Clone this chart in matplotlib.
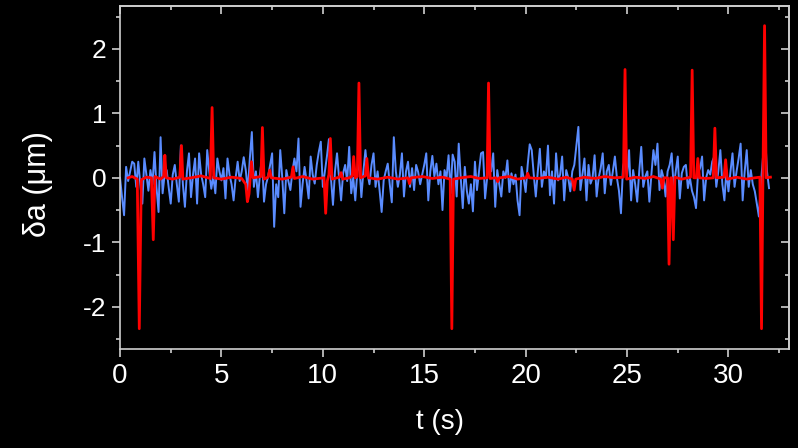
import matplotlib

matplotlib.use("Agg")
import numpy as np
from matplotlib import pyplot as plt
from matplotlib.ticker import MultipleLocator

plt.rcParams["font.family"] = ["Liberation Sans", "DejaVu Sans"]
plt.rcParams["axes.unicode_minus"] = False

# blue trace: one value every 0.1 s
SAMPLE_DT = 0.1
blue_v = [
    0.0, -0.3, -0.58, 0.17, -0.05, 0.1, 0.25, 0.22, -0.14, 0.25,
    -0.1, -0.4, 0.3, 0.05, -0.2, 0.12, -0.1, 0.4, -0.15, -0.53,
    0.63, -0.24, 0.05, 0.12, -0.15, -0.4, 0.05, 0.2, -0.1, -0.37,
    0.5, -0.1, -0.45, 0.1, 0.38, -0.3, 0.05, 0.3, -0.4, 0.38,
    0.05, -0.1, -0.3, 0.43, 0.1, -0.17, 0.02, -0.24, 0.3, 0.1,
    -0.04, 0.15, -0.32, 0.3, 0.05, -0.1, -0.35, 0.0, 0.25, -0.05,
    0.1, 0.32, 0.12, -0.2, 0.3, 0.71, -0.14, 0.1, -0.3, 0.05,
    0.32, -0.37, -0.1, 0.02, 0.2, 0.38, -0.76, -0.1, -0.3, 0.43,
    0.0, -0.55, 0.12, -0.05, -0.19, 0.1, 0.3, 0.1, 0.61, -0.45,
    -0.1, 0.17, -0.05, -0.32, 0.33, 0.05, -0.09, 0.2, 0.4, 0.56,
    -0.14, 0.1, 0.33, 0.6, 0.0, -0.42, 0.1, 0.38, 0.0, -0.35,
    0.07, 0.2, -0.05, 0.48, -0.24, 0.0, -0.35, 0.1, 0.22, -0.3,
    0.1, 0.43, 0.07, -0.1, 0.2, 0.38, -0.14, 0.1, -0.2, -0.53,
    -0.04, 0.1, 0.22, -0.1, -0.38, 0.63, 0.1, -0.14, 0.05, 0.38,
    -0.29, 0.1, 0.25, -0.14, 0.15, -0.19, 0.2, 0.09, -0.1, 0.05,
    0.2, 0.38, -0.35, 0.1, 0.34, 0.02, 0.22, -0.1, 0.1, -0.5,
    0.12, 0.0, 0.35, -0.24, 0.36, 0.25, -0.29, 0.53, 0.0, -0.47,
    0.17, -0.2, -0.4, -0.1, -0.52, 0.25, -0.19, 0.1, 0.38, 0.4,
    -0.32, 0.0, 0.25, 0.1, 0.38, -0.45, 0.12, -0.1, -0.29, 0.1,
    0.0, 0.27, -0.22, 0.07, -0.1, 0.05, -0.35, -0.58, 0.17, 0.0,
    -0.22, 0.2, 0.52, 0.43, 0.05, -0.29, 0.1, 0.45, -0.14, 0.1,
    0.0, 0.5, -0.27, 0.1, -0.4, 0.38, -0.04, 0.05, 0.33, -0.35,
    0.12, 0.0, -0.21, 0.1, 0.2, 0.5, 0.79, -0.19, 0.05, 0.3,
    -0.35, 0.2, -0.09, 0.0, 0.35, -0.29, 0.0, 0.15, 0.38, -0.24,
    0.1, 0.2, -0.11, 0.1, 0.33, 0.0, -0.2, -0.55, 0.17, 0.3,
    0.02, 0.43, -0.35, 0.12, -0.1, -0.37, 0.1, 0.48, -0.14, 0.02,
    0.1, -0.37, 0.05, 0.43, 0.2, 0.53, -0.19, 0.12, 0.0, -0.29,
    0.1, 0.2, 0.38, -0.16, 0.1, 0.33, -0.32, 0.07, 0.17, 0.2,
    -0.16, 0.0, -0.2, -0.3, -0.47, 0.07, 0.15, 0.33, -0.35, 0.0,
    0.12, 0.05, 0.25, 0.33, -0.14, 0.1, 0.43, -0.1, -0.35, 0.12,
    -0.21, 0.1, 0.38, -0.14, 0.1, 0.3, 0.53, -0.35, 0.1, 0.43,
    -0.14, 0.12, -0.1, -0.21, -0.4, -0.6, -0.09, 0.3, 0.71, 0.1,
    -0.16,
]

# red trace: flat baseline with sharp spikes
red_t = [
    0.4, 0.6, 0.85, 0.95, 1.05, 1.3, 1.55, 1.64, 1.72, 2.0,
    2.15, 2.21, 2.28, 2.6, 2.95, 3.03, 3.1, 3.5, 4.0, 4.45,
    4.54, 4.62, 5.0, 5.5, 6.0, 6.2, 6.28, 6.36, 6.48, 6.56,
    6.95, 7.02, 7.1, 7.3, 7.38, 7.46, 8.0, 8.45, 8.53, 8.6,
    9.0, 9.5, 10.06, 10.14, 10.22, 10.3, 10.37, 10.45, 10.82, 10.9,
    10.98, 11.3, 11.45, 11.52, 11.6, 11.7, 11.78, 11.86, 12.1, 12.17,
    12.25, 12.7, 13.2, 13.7, 14.2, 14.27, 14.35, 14.9, 15.4, 15.9,
    16.28, 16.36, 16.44, 16.8, 17.3, 17.7, 18.1, 18.17, 18.25, 18.55,
    18.62, 18.7, 19.2, 19.6, 20.03, 20.1, 20.18, 20.6, 21.1, 21.6,
    22.0, 22.3, 22.39, 22.47, 22.9, 23.4, 23.9, 24.4, 24.82, 24.9,
    24.98, 25.4, 25.9, 26.3, 26.66, 26.74, 26.82, 27.0, 27.07, 27.15,
    27.2, 27.28, 27.36, 27.7, 28.13, 28.21, 28.29, 28.42, 28.49, 28.57,
    28.9, 29.25, 29.33, 29.41, 29.78, 29.86, 29.94, 30.4, 30.9, 31.3,
    31.55, 31.63, 31.7, 31.78, 31.86, 32.07,
]
red_v = [
    0.0, 0.02, -0.02, -2.34, -0.03, 0.01, 0.0, -0.96, 0.02, -0.02,
    0.02, 0.35, 0.0, -0.02, 0.01, 0.5, -0.02, 0.0, 0.03, -0.01,
    1.09, 0.0, -0.02, 0.01, -0.01, -0.1, -0.37, -0.25, 0.25, 0.0,
    0.02, 0.78, -0.02, 0.01, 0.12, 0.0, -0.02, 0.01, 0.17, -0.01,
    0.02, -0.02, 0.0, -0.55, -0.05, 0.05, 0.61, -0.02, 0.01, 0.08,
    -0.02, 0.0, 0.03, 0.33, 0.0, 0.02, 1.47, 0.0, 0.03, 0.3,
    0.0, -0.02, 0.01, -0.02, 0.0, -0.09, 0.0, 0.02, -0.01, 0.01,
    -0.02, -2.34, -0.02, 0.0, 0.02, -0.01, 0.0, 1.47, -0.01, 0.0,
    -0.06, 0.0, 0.02, -0.02, 0.0, 0.07, 0.0, -0.01, 0.01, -0.02,
    0.01, -0.02, -0.19, -0.02, 0.01, -0.01, 0.02, 0.0, 0.01, 1.68,
    -0.02, 0.01, -0.01, 0.02, -0.02, -0.16, 0.0, 0.0, -1.34, 0.0,
    0.0, -0.96, 0.01, -0.02, 0.01, 1.67, 0.0, 0.0, 0.3, 0.0,
    -0.01, 0.0, 0.77, 0.0, 0.01, 0.28, -0.02, 0.01, -0.02, 0.0,
    0.01, -2.34, 0.0, 2.36, 0.0, 0.01,
]

BLUE = "#5a8cff"
RED = "#ff0000"
AXIS_GREY = "#cfcfcf"

blue_t = np.arange(len(blue_v)) * SAMPLE_DT

fig = plt.figure(figsize=(7.98, 4.48), dpi=100, facecolor="black")
ax = fig.add_axes([0.1504, 0.2217, 0.8387, 0.7642], facecolor="black")

ax.plot(blue_t, blue_v, color=BLUE, lw=1.4, zorder=2)
ax.plot(red_t, red_v, color=RED, lw=2.0, zorder=3)

ax.set_xlim(0, 33)
ax.set_ylim(-2.65, 2.66)
ax.xaxis.set_major_locator(MultipleLocator(5))
ax.xaxis.set_minor_locator(MultipleLocator(2.5))
ax.yaxis.set_major_locator(MultipleLocator(1))
ax.yaxis.set_minor_locator(MultipleLocator(0.5))

for side in ax.spines.values():
    side.set_color(AXIS_GREY)
    side.set_linewidth(1.2)

ax.tick_params(which="both", direction="out", color=AXIS_GREY, width=1.2, labelcolor="white")
ax.tick_params(which="major", length=6)
ax.tick_params(which="minor", length=3)
ax.tick_params(axis="x", labelsize=20, pad=4)
ax.tick_params(axis="y", labelsize=19, pad=4)

# mirrored ticks on top and right point inward
top = ax.secondary_xaxis("top")
right = ax.secondary_yaxis("right")
top.xaxis.set_major_locator(MultipleLocator(5))
top.xaxis.set_minor_locator(MultipleLocator(2.5))
right.yaxis.set_major_locator(MultipleLocator(1))
right.yaxis.set_minor_locator(MultipleLocator(0.5))
for sec in (top, right):
    sec.tick_params(which="both", direction="in", color=AXIS_GREY, width=1.2,
                    labeltop=False, labelright=False)
    sec.tick_params(which="major", length=6)
    sec.tick_params(which="minor", length=3)
    for side in sec.spines.values():
        side.set_color(AXIS_GREY)
        side.set_linewidth(1.2)

ax.set_xlabel("t (s)", fontsize=20, color="white")
ax.set_ylabel("δa (μm)", fontsize=22, color="white")
ax.xaxis.set_label_coords(0.478, -0.175)
ax.yaxis.set_label_coords(-0.1, 0.481)

fig.savefig("out.png", dpi=100, facecolor="black")
